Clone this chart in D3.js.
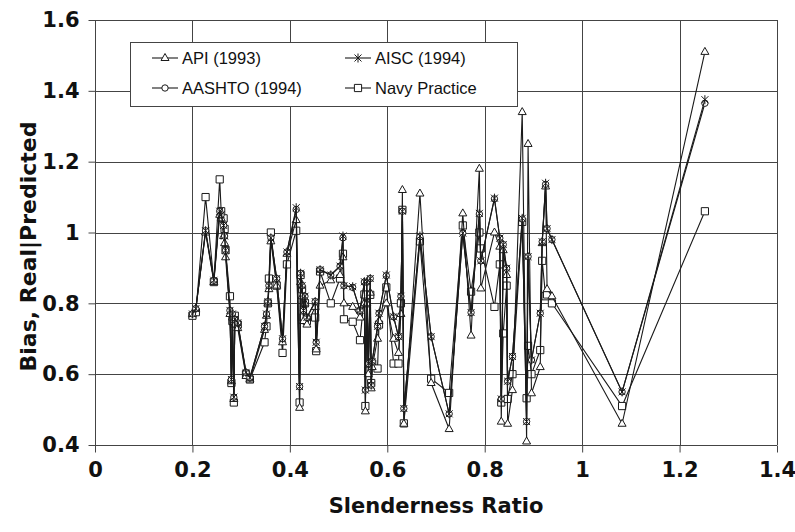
<!DOCTYPE html>
<meta charset="utf-8">
<html>
<head>
    <title>Bias vs slenderness ratio</title>
    <script src="https://cdn.jsdelivr.net/npm/d3@7"></script>
</head>

<style>
    body{
        margin: 0;
        background: #fff;
    }
    svg{
        width: 795px;
        height: 532px;
        display: block;
    }
    .axis text, .axis-title{
        font-family: "DejaVu Sans", sans-serif;
        font-weight: bold;
        fill: #111;
    }
    .legend text{
        font-family: "Liberation Sans", Arial, sans-serif;
        font-size: 16.5px;
        fill: #111;
    }
</style>

<body>
<svg></svg>

<script>
    // slenderness ratio of each specimen, same for all four methods
    const slenderness = [0.200, 0.207, 0.227, 0.244, 0.256, 0.259, 0.264, 0.266, 0.268, 0.277,
        0.280, 0.282, 0.285, 0.287, 0.293, 0.310, 0.318, 0.348, 0.352, 0.355,
        0.357, 0.361, 0.373, 0.385, 0.394, 0.413, 0.420, 0.422, 0.425, 0.428,
        0.431, 0.435, 0.452, 0.454, 0.462, 0.484, 0.503, 0.509, 0.511, 0.529,
        0.544, 0.553, 0.555, 0.558, 0.561, 0.565, 0.567, 0.569, 0.580, 0.583,
        0.598, 0.613, 0.623, 0.628, 0.631, 0.634, 0.667, 0.690, 0.727, 0.755,
        0.772, 0.789, 0.792, 0.820, 0.831, 0.834, 0.838, 0.845, 0.847, 0.857,
        0.877, 0.886, 0.889, 0.896, 0.914, 0.918, 0.925, 0.928, 0.938, 1.082, 1.252]

    const api = [0.770, 0.785, 1.000, 0.860, 1.050, 1.040, 0.990, 0.970, 0.930, 0.770,
        0.580, 0.760, 0.530, 0.740, 0.730, 0.595, 0.585, 0.725, 0.765, 0.800,
        0.840, 0.975, 0.850, 0.690, 0.940, 1.035, 0.505, 0.860, 0.820, 0.750,
        0.800, 0.740, 0.790, 0.670, 0.850, 0.865, 0.880, 0.930, 0.800, 0.790,
        0.760, 0.800, 0.495, 0.800, 0.600, 0.830, 0.560, 0.620, 0.700, 0.750,
        0.800, 0.700, 0.660, 0.770, 1.120, 0.460, 1.110, 0.575, 0.445, 1.054,
        0.709, 1.180, 0.842, 1.000, 0.960, 0.466, 0.950, 0.880, 0.460, 0.555,
        1.340, 0.410, 1.250, 0.546, 0.620, 0.970, 1.130, 0.840, 0.820, 0.460, 1.510]

    const aisc = [0.770, 0.785, 1.005, 0.865, 1.060, 1.050, 1.020, 0.990, 0.950, 0.780,
        0.585, 0.770, 0.535, 0.755, 0.745, 0.605, 0.590, 0.735, 0.770, 0.805,
        0.850, 0.985, 0.870, 0.700, 0.945, 1.070, 0.565, 0.885, 0.850, 0.780,
        0.820, 0.760, 0.805, 0.690, 0.895, 0.880, 0.905, 0.990, 0.850, 0.847,
        0.780, 0.861, 0.555, 0.861, 0.630, 0.870, 0.569, 0.636, 0.735, 0.772,
        0.880, 0.762, 0.706, 0.820, 1.060, 0.503, 0.990, 0.706, 0.488, 0.998,
        0.774, 1.054, 0.920, 1.097, 0.984, 0.530, 0.966, 0.899, 0.580, 0.650,
        1.040, 0.466, 0.932, 0.640, 0.772, 0.974, 1.139, 1.011, 0.980, 0.550, 1.375]

    const aashto = [0.770, 0.785, 1.005, 0.865, 1.060, 1.050, 1.020, 0.990, 0.950, 0.780,
        0.585, 0.770, 0.535, 0.755, 0.745, 0.605, 0.590, 0.735, 0.770, 0.805,
        0.850, 0.985, 0.870, 0.700, 0.945, 1.065, 0.565, 0.885, 0.850, 0.780,
        0.820, 0.760, 0.805, 0.690, 0.895, 0.880, 0.905, 0.985, 0.850, 0.845,
        0.780, 0.860, 0.555, 0.860, 0.630, 0.870, 0.569, 0.636, 0.735, 0.772,
        0.878, 0.762, 0.706, 0.820, 1.060, 0.503, 0.988, 0.706, 0.488, 0.998,
        0.774, 1.052, 0.920, 1.095, 0.984, 0.530, 0.966, 0.899, 0.580, 0.650,
        1.038, 0.466, 0.932, 0.640, 0.772, 0.974, 1.136, 1.011, 0.980, 0.550, 1.365]

    const navy = [0.765, 0.775, 1.100, 0.860, 1.150, 1.060, 1.040, 1.010, 0.950, 0.820,
        0.575, 0.750, 0.520, 0.765, 0.740, 0.600, 0.585, 0.690, 0.735, 0.800,
        0.870, 1.000, 0.850, 0.660, 0.910, 1.005, 0.520, 0.880, 0.840, 0.760,
        0.800, 0.750, 0.760, 0.665, 0.890, 0.800, 0.870, 0.940, 0.755, 0.748,
        0.696, 0.825, 0.510, 0.800, 0.610, 0.824, 0.575, 0.630, 0.616, 0.740,
        0.845, 0.630, 0.630, 0.800, 1.064, 0.461, 0.975, 0.587, 0.547, 1.020,
        0.833, 1.000, 0.955, 0.790, 0.910, 0.520, 0.715, 0.850, 0.530, 0.600,
        1.030, 0.532, 0.680, 0.600, 0.668, 0.920, 0.820, 0.825, 0.800, 0.510, 1.060]

    const seriesNames = ["API (1993)", "AISC (1994)", "AASHTO (1994)", "Navy Practice"]
    const xTicks = [0, 0.2, 0.4, 0.6, 0.8, 1, 1.2, 1.4]
    const yTicks = [0.4, 0.6, 0.8, 1, 1.2, 1.4, 1.6]

    const svg = d3.select("svg")
    const margin = {left: 95, right: 18, top: 20, bottom: 87}
    const w = 795, h = 532

    const x = d3.scaleLinear().domain([0, 1.4]).range([margin.left, w - margin.right])
    const y = d3.scaleLinear().domain([0.4, 1.6]).range([h - margin.bottom, margin.top])

    // ***************************************
    //        grid + frame
    // ***************************************
    const grid = svg.append("g").attr("stroke", "#444").attr("stroke-width", 1)
    grid.selectAll(".gx").data(xTicks).enter().append("line")
        .attr("x1", d => Math.round(x(d)) + 0.5).attr("x2", d => Math.round(x(d)) + 0.5)
        .attr("y1", y(1.6)).attr("y2", y(0.4))
    grid.selectAll(".gy").data(yTicks).enter().append("line")
        .attr("y1", d => Math.round(y(d)) + 0.5).attr("y2", d => Math.round(y(d)) + 0.5)
        .attr("x1", x(0)).attr("x2", x(1.4))

    // ***************************************
    //        axes
    // ***************************************
    const fmt = d3.format("~g")
    const xAxis = svg.append("g").attr("class", "axis")
        .attr("transform", `translate(0,${Math.round(y(0.4)) + 0.5})`)
        .call(d3.axisBottom(x).tickValues(xTicks).tickSize(7).tickPadding(10).tickFormat(fmt))
    const yAxis = svg.append("g").attr("class", "axis")
        .attr("transform", `translate(${Math.round(x(0)) + 0.5},0)`)
        .call(d3.axisLeft(y).tickValues(yTicks).tickSize(7).tickPadding(9).tickFormat(fmt))
    svg.selectAll(".axis .domain").remove()
    svg.selectAll(".axis line").attr("stroke", "#444")
    svg.selectAll(".axis text").style("font-size", "21px")

    svg.append("text").attr("class", "axis-title")
        .attr("x", (x(0) + x(1.4)) / 2).attr("y", 513)
        .attr("text-anchor", "middle").style("font-size", "21px")
        .text("Slenderness Ratio")
    svg.append("text").attr("class", "axis-title")
        .attr("transform", `translate(36,${y(1.0) + 14}) rotate(-90)`)
        .attr("text-anchor", "middle").style("font-size", "22px")
        .text("Bias, Real|Predicted")

    // ***************************************
    //        markers
    // ***************************************
    const markers = {
        triangle: "M0,-4.5L4,2.5L-4,2.5Z",
        asterisk: "M-3.5,-3.5L3.5,3.5M-3.5,3.5L3.5,-3.5M0,-4.5L0,4.5",
        circle: d3.symbol(d3.symbolCircle).size(32)(),
        square: "M-3.6,-3.6H3.6V3.6H-3.6Z"
    }

    const series = [
        {name: seriesNames[3], values: navy, marker: "square"},
        {name: seriesNames[0], values: api, marker: "triangle"},
        {name: seriesNames[2], values: aashto, marker: "circle"},
        {name: seriesNames[1], values: aisc, marker: "asterisk"}
    ]

    const line = d3.line().x(d => x(d[0])).y(d => y(d[1]))

    series.forEach(function (s) {
        const pts = slenderness.map((v, i) => [v, s.values[i]])
        const g = svg.append("g")
        g.append("path")
            .attr("d", line(pts))
            .attr("fill", "none")
            .attr("stroke", "#1a1a1a")
            .attr("stroke-width", 1.1)
        g.selectAll("path.m").data(pts).enter().append("path")
            .attr("class", "m")
            .attr("transform", d => `translate(${x(d[0])},${y(d[1])})`)
            .attr("d", markers[s.marker])
            .attr("fill", s.marker === "asterisk" ? "none" : "#fff")
            .attr("stroke", "#1a1a1a")
            .attr("stroke-width", 1)
    })

    // ***************************************
    //        legend
    // ***************************************
    const legend = svg.append("g").attr("class", "legend")
    legend.append("rect")
        .attr("x", 130.5).attr("y", 42.5).attr("width", 387).attr("height", 64)
        .attr("fill", "#fff").attr("stroke", "#444").attr("stroke-width", 1)

    const legendItems = [
        {name: seriesNames[0], marker: "triangle", lx: 152, ly: 58},
        {name: seriesNames[1], marker: "asterisk", lx: 345, ly: 58},
        {name: seriesNames[2], marker: "circle", lx: 152, ly: 88},
        {name: seriesNames[3], marker: "square", lx: 345, ly: 88}
    ]
    legendItems.forEach(function (d) {
        legend.append("line")
            .attr("x1", d.lx).attr("x2", d.lx + 26)
            .attr("y1", d.ly).attr("y2", d.ly)
            .attr("stroke", "#1a1a1a").attr("stroke-width", 1.1)
        legend.append("path")
            .attr("transform", `translate(${d.lx + 13},${d.ly})`)
            .attr("d", markers[d.marker])
            .attr("fill", d.marker === "asterisk" ? "none" : "#fff")
            .attr("stroke", "#1a1a1a")
        legend.append("text")
            .attr("x", d.lx + 30).attr("y", d.ly + 6)
            .text(d.name)
    })
</script>
</body>
</html>
